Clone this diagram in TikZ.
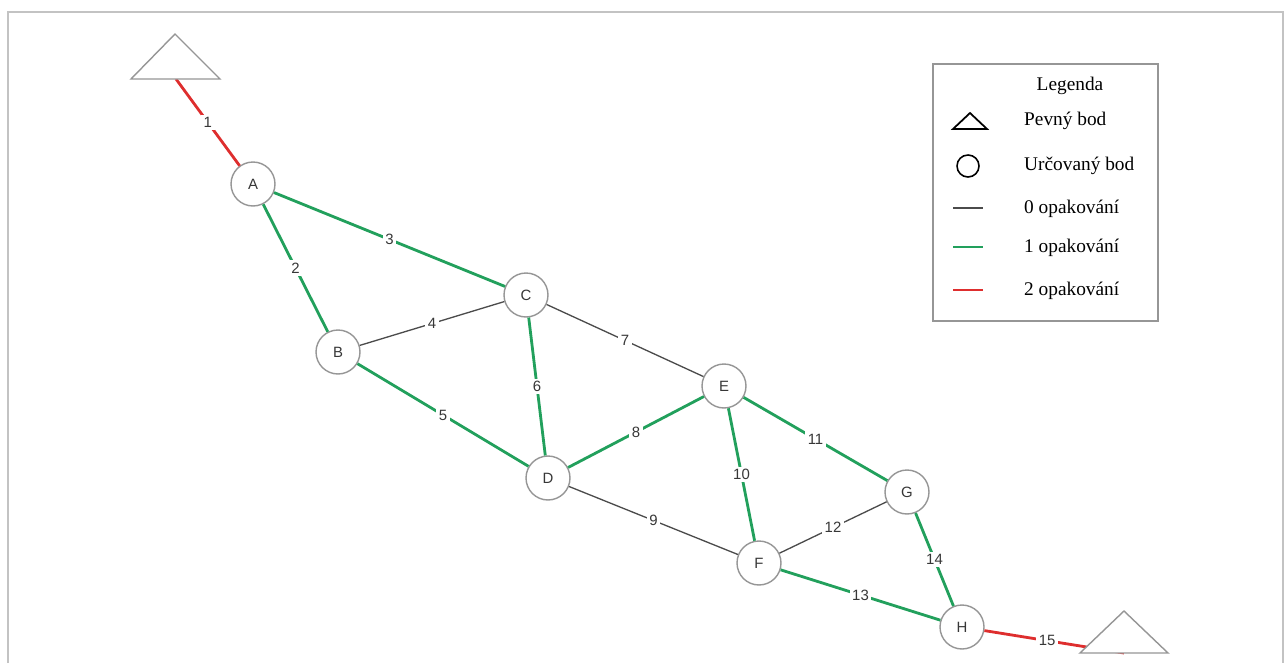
\documentclass[tikz,border=0pt]{standalone}
\usepackage{fontspec}
\setmainfont{Liberation Serif}
\setsansfont{Liberation Sans}
\usepackage{tikz}

\definecolor{repgreen}{RGB}{34,160,92}
\definecolor{repred}{RGB}{222,46,46}
\definecolor{repgray}{RGB}{75,75,75}
\definecolor{framegray}{RGB}{195,195,195}
\definecolor{pointgray}{RGB}{150,150,150}
\definecolor{labelgray}{RGB}{55,55,55}

\begin{document}
\begin{tikzpicture}[x=0.02cm,y=-0.02cm,
	every node/.style={font=\sffamily\fontsize{8.5}{10}\selectfont, text=labelgray},
	point/.style={circle,draw=pointgray,fill=white,line width=0.8pt,minimum size=0.88cm,inner sep=0pt},
	rep0/.style={repgray,line width=0.75pt},
	rep1/.style={repgreen,line width=1.6pt},
	rep2/.style={repred,line width=1.6pt},
	num/.style={fill=white,inner sep=1.5pt,text=labelgray},
	legtext/.style={font=\rmfamily\fontsize{11}{13}\selectfont,text=black,anchor=west}]
	\useasboundingbox (0,0) rectangle (1288,663);
	\draw[framegray, line width=0.6pt] (8,663) -- (8,12) -- (1283,12) -- (1283,663);
	% fixed points
	\coordinate (P1) at (176,79);
	\coordinate (P2) at (1124,653);
	% determined points
	\node[point] (A) at (253,184) {A};
	\node[point] (B) at (338,352) {B};
	\node[point] (C) at (526,295) {C};
	\node[point] (D) at (548,478) {D};
	\node[point] (E) at (724,386) {E};
	\node[point] (F) at (759,563) {F};
	\node[point] (G) at (907,492) {G};
	\node[point] (H) at (962,627) {H};
	% measurements
	\draw[rep2] (P1) -- node[num] {1} (A);
	\draw[rep1] (A) -- node[num] {2} (B);
	\draw[rep1] (A) -- node[num] {3} (C);
	\draw[rep0] (B) -- node[num] {4} (C);
	\draw[rep1] (B) -- node[num] {5} (D);
	\draw[rep1] (C) -- node[num] {6} (D);
	\draw[rep0] (C) -- node[num] {7} (E);
	\draw[rep1] (D) -- node[num] {8} (E);
	\draw[rep0] (D) -- node[num] {9} (F);
	\draw[rep1] (E) -- node[num] {10} (F);
	\draw[rep1] (E) -- node[num] {11} (G);
	\draw[rep0] (F) -- node[num] {12} (G);
	\draw[rep1] (F) -- node[num] {13} (H);
	\draw[rep1] (G) -- node[num] {14} (H);
	\draw[rep2] (H) -- node[num, pos=0.45] {15} (P2);
	\filldraw[draw=pointgray, fill=white, line width=0.8pt] (131,79) -- (175,34) -- (220,79) -- cycle;
	\filldraw[draw=pointgray, fill=white, line width=0.8pt] (1080,653) -- (1124,611) -- (1168,653) -- cycle;
	% legend
	\draw[pointgray, line width=0.8pt] (933,64) rectangle (1158,321);
	\node[font=\rmfamily\fontsize{11}{13}\selectfont, text=black] (legtitle) at (1070,86) {Legenda};
	\draw[black, line width=1pt] (953,129) -- (970,113) -- (987,129) -- cycle;
	\node[legtext] (legfixed) at (1018,121) {Pevný bod};
	\draw[black, line width=0.9pt] (968,166) circle (11);
	\node[legtext] (legpoint) at (1018,166) {Určovaný bod};
	\draw[rep0] (953,208) -- (983,208);
	\node[legtext] (legzero) at (1018,209) {0 opakování};
	\draw[rep1] (953,247) -- (983,247);
	\node[legtext] (legone) at (1018,248) {1 opakování};
	\draw[rep2] (953,290) -- (983,290);
	\node[legtext] (legtwo) at (1018,291) {2 opakování};
\end{tikzpicture}
\end{document}
